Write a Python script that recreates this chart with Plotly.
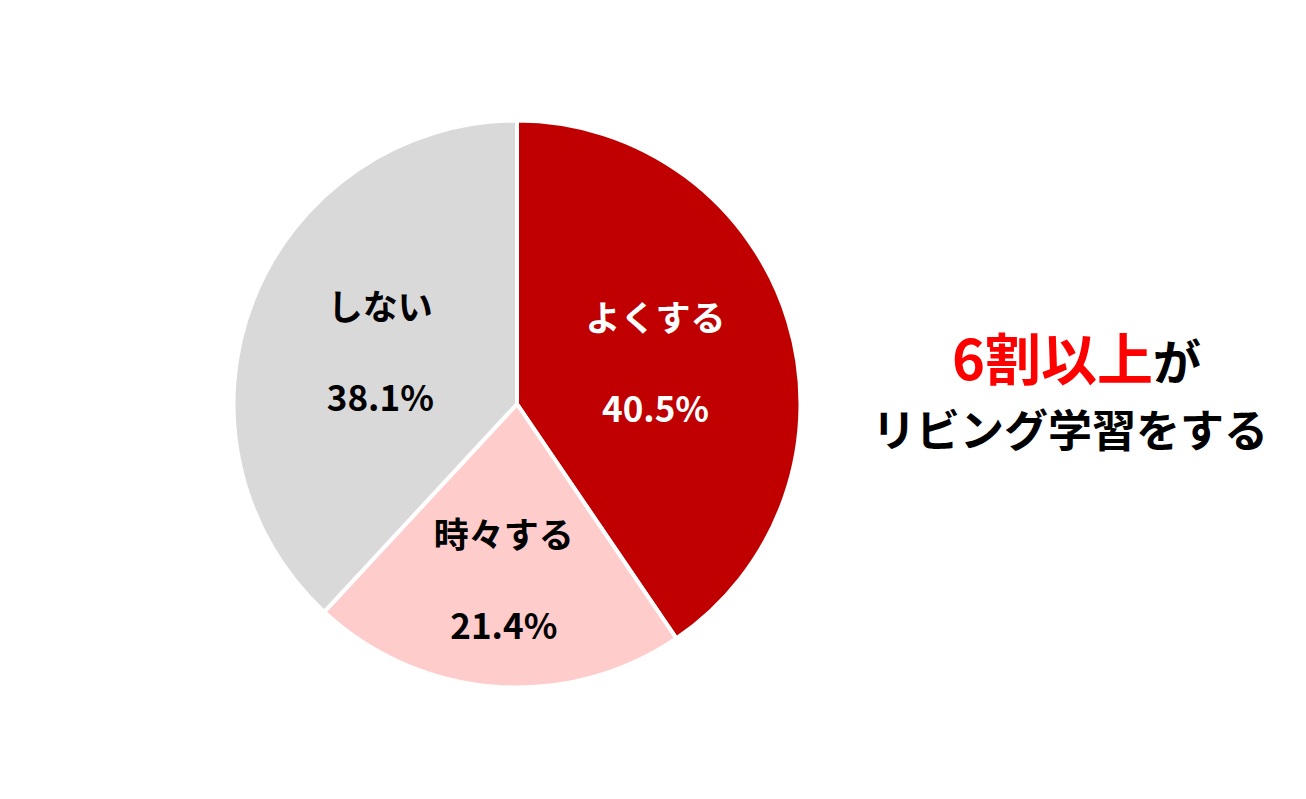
import plotly.graph_objects as go

labels = ["よくする", "時々する", "しない"]
values = [40.5, 21.4, 38.1]
colors = ["#C00000", "#FFCCCC", "#D9D9D9"]
text_colors = ["#FFFFFF", "#000000", "#000000"]

W, H = 1306, 799
cx, cy, r = 509, 396, 283.5

fig = go.Figure(go.Pie(
    labels=labels,
    values=values,
    sort=False,
    direction="clockwise",
    rotation=0,
    marker=dict(colors=colors, line=dict(color="#FFFFFF", width=4)),
    texttemplate="%{label}<br><br>%{value:.1f}%",
    textposition="inside",
    insidetextorientation="horizontal",
    textfont=dict(family="Noto Sans CJK JP", size=35, color=text_colors, weight="bold"),
    hoverinfo="label+value",
    showlegend=False,
    domain=dict(x=[(cx - r) / W, (cx + r) / W], y=[(H - cy - r) / H, (H - cy + r) / H]),
))

fig.add_annotation(
    x=1068 / W, y=1 - 347 / H, xref="paper", yref="paper",
    xanchor="center", yanchor="middle",
    text="<span style='color:#FF0000;font-size:56px'><b>6割以上</b></span><b>が</b>",
    showarrow=False, font=dict(family="Noto Sans CJK JP", size=48, color="#000000"),
)
fig.add_annotation(
    x=1062 / W, y=1 - 420 / H, xref="paper", yref="paper",
    xanchor="center", yanchor="middle",
    text="<b>リビング学習をする</b>",
    showarrow=False, font=dict(family="Noto Sans CJK JP", size=44, color="#000000"),
)

fig.update_layout(
    width=W, height=H,
    margin=dict(l=0, r=0, t=0, b=0),
    paper_bgcolor="#FFFFFF", plot_bgcolor="#FFFFFF",
)

fig.write_html("out.html")
